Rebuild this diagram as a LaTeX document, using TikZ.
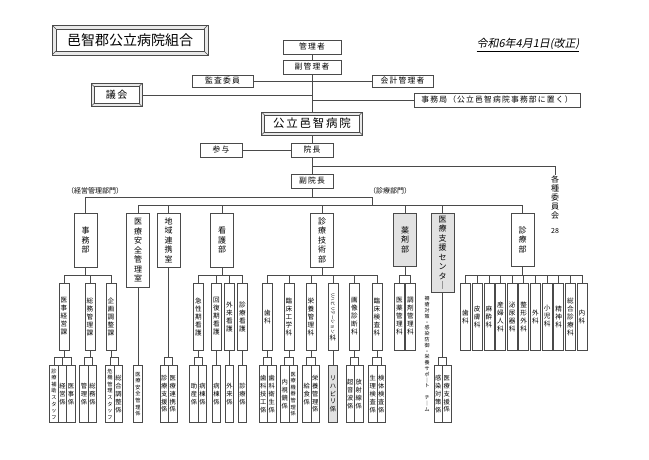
\documentclass[tikz,border=0pt]{standalone}
\usepackage{fontspec}
\setmainfont{Noto Sans CJK JP}
\newfontfamily\spaced{Noto Sans CJK JP}[LetterSpace=15]
\newfontfamily\slanted{Noto Sans CJK JP}[FakeSlant=0.2]
\usepackage{graphicx}
\usepackage{tikz}
\usetikzlibrary{calc}
\definecolor{oc-line}{HTML}{4A4A4A}
\definecolor{oc-gray}{HTML}{E2E2E2}
\definecolor{oc-band}{HTML}{E9E9E9}

% vertical (tategaki) text: one character per line
\makeatletter
\def\tate@loop#1{\ifx#1\@nil\else\hbox to 1em{\hss#1\hss}\expandafter\tate@loop\fi}
\newcommand{\tate}[1]{\vbox{\lineskiplimit=-100pt\expandafter\tate@loop#1\@nil}}
\makeatother

\tikzset{
  tsunagi/.style={draw=oc-line, line width=0.6pt},
  waku/.style={draw=oc-line, line width=0.6pt, fill=white, inner sep=0pt,
    font=\spaced\fontsize{7.8}{9}\selectfont},
  gaku/.style={draw=oc-line, line width=0.6pt, fill=oc-band, inner sep=0pt,
    path picture={
      \draw[oc-line, fill=white, line width=0.5pt]
        ([shift={(#1,-#1)}]path picture bounding box.north west) rectangle
        ([shift={(-#1,#1)}]path picture bounding box.south east);
      \draw[oc-line, line width=0.5pt]
        (path picture bounding box.north west) -- ++(#1,-#1)
        (path picture bounding box.north east) -- ++(-#1,-#1)
        (path picture bounding box.south west) -- ++(#1,#1)
        (path picture bounding box.south east) -- ++(-#1,#1);
    }},
  gaku/.default=3pt,
  bu/.style={waku, anchor=north, minimum width=23pt, minimum height=54pt,
    font=\fontsize{8}{9.5}\selectfont},
  ka/.style={waku, minimum width=10pt, minimum height=67pt,
    font=\fontsize{6.6}{8}\selectfont},
  kakari/.style={waku, minimum width=8.5pt, minimum height=57pt,
    font=\fontsize{6.3}{7.8}\selectfont},
  kakaris/.style={font=\fontsize{5.2}{6.6}\selectfont},
  bumon/.style={inner sep=0pt, font=\fontsize{7}{8}\selectfont}
}

% parent -> bus line at height #2 -> children
\newcommand{\busline}[3]{%
  \coordinate (#1-b) at (#1.south |- 0,#2);
  \draw[tsunagi] (#1.south) -- (#1-b);
  \foreach \ch in {#3} {\draw[tsunagi] (#1-b) -| (\ch.north);}%
}

\begin{document}
\begin{tikzpicture}[x=1pt, y=-1pt]
    \useasboundingbox (0,0) rectangle (649,459);

    % Title and date
    \node[gaku=4pt, minimum width=156pt, minimum height=30pt,
      font=\fontsize{14}{16}\selectfont] (kumiai) at (130,40) {邑智郡公立病院組合};
    \node[inner sep=0pt, font=\slanted\fontsize{11}{13}\selectfont] (kaisei) at (528,45)
      {\underline{令和6年4月1日(改正)}};

    % Union
    \node[waku, minimum width=58pt, minimum height=14pt] (kanri) at (312,47) {管理者};
    \node[waku, minimum width=58pt, minimum height=14pt] (fukukanri) at (312,67) {副管理者};
    \node[waku, minimum width=61pt, minimum height=12pt] (kansa) at (222.5,81) {監査委員};
    \node[waku, minimum width=61pt, minimum height=12pt] (kaikei) at (402.5,81) {会計管理者};
    \node[gaku, minimum width=51pt, minimum height=23pt,
      font=\spaced\fontsize{10}{12}\selectfont] (gikai) at (116.5,95) {議会};
    \node[waku, minimum width=166pt, minimum height=14pt] (jimukyoku) at (497,100)
      {事務局（公立邑智病院事務部に置く）};

    % Hospital
    \node[gaku, minimum width=101pt, minimum height=23pt,
      font=\spaced\fontsize{11.5}{13}\selectfont] (byoin) at (312,123.5) {公立邑智病院};
    \node[waku, minimum width=42pt, minimum height=14pt] (sanyo) at (221,150) {参与};
    \node[waku, minimum width=42pt, minimum height=14pt] (incho) at (312,150) {院長};
    \node[waku, minimum width=42pt, minimum height=14pt] (fukuincho) at (312,181) {副院長};
    \node[anchor=north, inner sep=1pt, font=\fontsize{8}{9}\selectfont] (iinkai) at (555,175)
      {\tate{各種委員会}};
    \node[bumon] (iinsu) at (555,231) {28};

    \draw[tsunagi] (kanri) -- (fukukanri);
    \draw[tsunagi] (fukukanri) -- (byoin);
    \draw[tsunagi] (kansa) -- (kaikei);
    \draw[tsunagi] (gikai) -- (gikai -| byoin);
    \draw[tsunagi] (jimukyoku) -- (jimukyoku -| byoin);
    \draw[tsunagi] (byoin) -- (incho);
    \draw[tsunagi] (sanyo) -- (incho);
    \draw[tsunagi] (incho) -- (fukuincho);
    \coordinate (iinbunki) at (312,166);
    \draw[tsunagi] (iinbunki) -| (iinkai.north);

    % Divisions
    \node[bumon] (keiei) at (95,191) {（経営管理部門）};
    \node[bumon] (shinryobu) at (390,191) {（診療部門）};
    \node[bu] (jimubu) at (85.5,213) {\tate{事務部}};
    \node[bu, minimum height=74pt] (anzen) at (138,213) {\tate{医療安全管理室}};
    \node[bu] (renkei) at (168.5,213) {\tate{地域連携室}};
    \node[bu] (kango) at (222,213) {\tate{看護部}};
    \node[bu] (gijutsu) at (322,213) {\tate{診療技術部}};
    \node[bu, fill=oc-gray, minimum height=53pt] (yakuzai) at (405,213) {\tate{薬剤部}};
    \node[bu, fill=oc-gray, minimum height=79pt] (shien) at (442.5,213) {\tate{医療支援センタ｜}};
    \node[bu, minimum height=53pt] (shinryo) at (522.5,213) {\tate{診療部}};
    \node[inner sep=0pt, font=\fontsize{5}{5.8}\selectfont] (team) at (427,354)
      {\tate{褥瘡対策・感染防御・栄養サポ｜ト　チ｜ム}};

    \coordinate (bunki) at (312,197);
    \coordinate (shinryobumon) at (372,197);
    \coordinate (bus2) at (372,205);
    \draw[tsunagi] (fukuincho) -- (bunki);
    \draw[tsunagi] (jimubu.north) |- (shinryobumon) -- (bus2);
    \foreach \b in {anzen,renkei,kango,gijutsu,yakuzai,shien,shinryo}
      \draw[tsunagi] (bus2) -| (\b.north);

    % Sections
    \foreach \nm/\xx/\txt in {j1/64/医事経営課, j2/90/総務管理課, j3/111/企画調整課,
        k1/198.5/急性期看護, k2/216.5/回復期看護, k3/229.5/外来看護, k4/242.5/診療看護,
        g1/267.5/歯科, g2/289/臨床工学科, g3/311/栄養管理科, g5/354.5/画像診断科,
        g6/377/臨床検査科, y1/399.5/医薬管理科, y2/410.5/調剤管理科}
      \node[ka] (\nm) at (\xx,316.5) {\tate\txt};
    \node[ka, align=center] (g4) at (333,316.5)
      {\rotatebox{-90}{\fontsize{4.6}{5}\selectfont リハビリテーション}\\科};
    \foreach \txt [count=\i] in {歯科,皮膚科,麻酔科,産婦人科,泌尿器科,整形外科,
        外科,小児科,精神科,総合診療科,内科}
      \node[ka] (s\i) at ({465.5+11.65*(\i-1)},316.5) {\tate\txt};

    \busline{jimubu}{275}{j1,j2,j3}
    \busline{kango}{275}{k1,k2,k3,k4}
    \busline{gijutsu}{275}{g1,g2,g3,g4,g5,g6}
    \busline{yakuzai}{275}{y1,y2}
    \busline{shinryo}{275}{s1,s2,s3,s4,s5,s6,s7,s8,s9,s10,s11}

    % Units
    \foreach \nm/\xx/\txt in {j1b/62.5/経営係, j1c/71/医事係, j2a/84/管理係, j2b/92.5/総務係,
        j3b/118.5/総合調整係, r1a/164.25/診療支援係, r1b/172.75/医療連携係,
        k1a/194/助産係, k1b/202.5/病棟係, k2a/216.5/病棟係, k3a/229.5/外来係, k4a/242.5/診療係,
        g1a/263.25/歯科技工係, g1b/271.75/歯科衛生係, g2a/284.75/内視鏡係,
        g3a/306.75/給食係, g3b/315.25/栄養管理係, g5a/350.25/超音波係, g5b/358.75/放射線係,
        g6a/372.75/生理検査係, g6b/381.25/検体検査係, c1a/438.25/感染対策係, c1b/446.75/医療支援係}
      \node[kakari] (\nm) at (\xx,394) {\tate\txt};
    \foreach \nm/\xx/\txt in {j1a/54/診療補助スタッフ, j3a/110/危機管理スタッフ,
        a1/138/医療安全管理係, g2b/293.25/医療機器管理係}
      \node[kakari, kakaris] (\nm) at (\xx,394) {\tate\txt};
    \node[kakari, fill=oc-gray] (g4a) at (333,394) {\tate{リハビリ係}};

    \busline{j1}{357}{j1a,j1b,j1c}
    \busline{j2}{357}{j2a,j2b}
    \busline{j3}{357}{j3a,j3b}
    \draw[tsunagi] (anzen) -- (a1);
    \busline{renkei}{357}{r1a,r1b}
    \busline{k1}{357}{k1a,k1b}
    \draw[tsunagi] (k2) -- (k2a);
    \draw[tsunagi] (k3) -- (k3a);
    \draw[tsunagi] (k4) -- (k4a);
    \busline{g1}{357}{g1a,g1b}
    \busline{g2}{357}{g2a,g2b}
    \busline{g3}{357}{g3a,g3b}
    \draw[tsunagi] (g4) -- (g4a);
    \busline{g5}{357}{g5a,g5b}
    \busline{g6}{357}{g6a,g6b}
    \busline{shien}{357}{c1a,c1b}

\end{tikzpicture}
\end{document}
